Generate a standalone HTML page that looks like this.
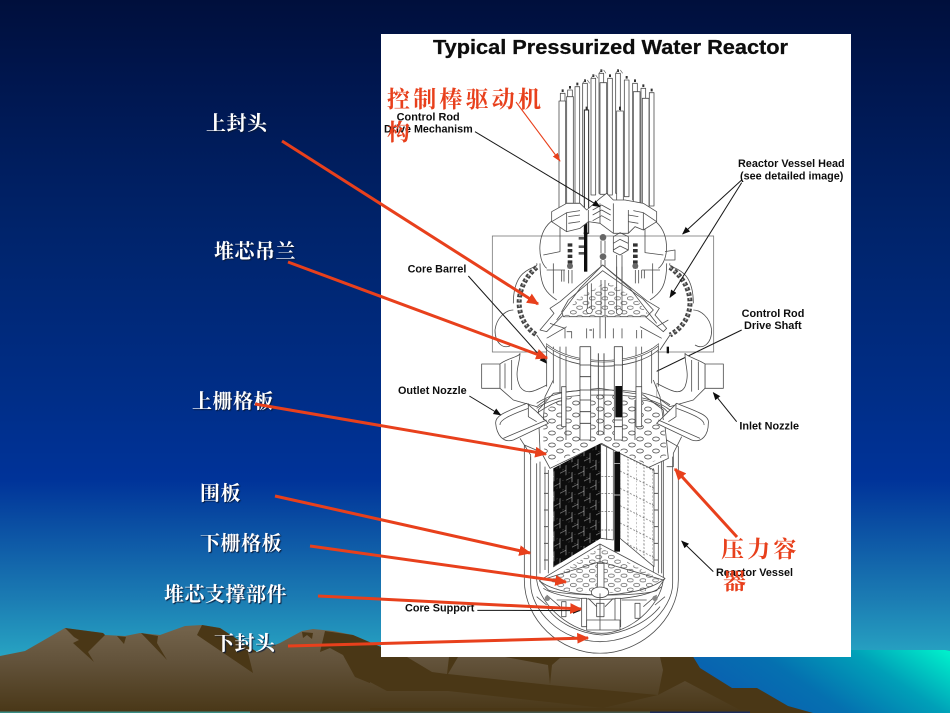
<!DOCTYPE html>
<html lang="zh">
<head>
<meta charset="utf-8">
<title>Typical Pressurized Water Reactor</title>
<style>
html,body{margin:0;padding:0;background:#001030}
#stage{position:relative;width:950px;height:713px;overflow:hidden}
svg{position:absolute;left:0;top:0}
.l{position:absolute;white-space:nowrap;color:#fff;font-family:"Liberation Serif","Noto Serif CJK SC",serif;font-weight:700;font-size:20px;line-height:22px;letter-spacing:.5px;text-shadow:1px 1px 1px #0a1a38}
.r{position:absolute;white-space:nowrap;color:#e8401c;font-family:"Liberation Serif","Noto Serif CJK SC",serif;font-weight:700;font-size:23px;line-height:24px;letter-spacing:3.2px}
.g{fill:none;stroke:#4c4c4c;stroke-width:2.4;stroke-linejoin:round}
.w{fill:#fff;stroke:#4c4c4c;stroke-width:2.4;stroke-linejoin:round}
.t{font-family:"Liberation Sans",sans-serif;font-weight:700;font-size:32px;fill:#111}
</style>
</head>
<body>
<div id="stage">
<svg width="950" height="713" viewBox="0 0 950 713" xmlns="http://www.w3.org/2000/svg">
<defs>
<filter id="soft" x="0" y="0" width="100%" height="100%"><feGaussianBlur stdDeviation=".35"/></filter>
<linearGradient id="sky" gradientUnits="userSpaceOnUse" x1="0" y1="0" x2="0" y2="713">
<stop offset="0" stop-color="#000f3c"/>
<stop offset=".11" stop-color="#00164e"/>
<stop offset=".33" stop-color="#00246c"/>
<stop offset=".56" stop-color="#002e88"/>
<stop offset=".673" stop-color="#003399"/>
<stop offset=".84" stop-color="#1b7cb3"/>
<stop offset=".92" stop-color="#27a3c2"/>
<stop offset="1" stop-color="#2bb0c4"/>
</linearGradient>
<linearGradient id="sea" gradientUnits="userSpaceOnUse" x1="760" y1="720" x2="860" y2="570">
<stop offset="0" stop-color="#0a60b0"/>
<stop offset=".3" stop-color="#0570b0"/>
<stop offset=".6" stop-color="#00a0b8"/>
<stop offset=".95" stop-color="#00ffcf"/>
</linearGradient>
<linearGradient id="mt" gradientUnits="userSpaceOnUse" x1="0" y1="630" x2="0" y2="711">
<stop offset="0" stop-color="#72624a"/>
<stop offset=".4" stop-color="#62523a"/>
<stop offset="1" stop-color="#4a3818"/>
</linearGradient>
<marker id="ra" viewBox="0 0 10 10" refX="9" refY="5" markerWidth="4" markerHeight="3.6" orient="auto" preserveAspectRatio="none" markerUnits="strokeWidth"><path d="M0 0L10 5L0 10z" fill="#e8401c"/></marker>
<marker id="rb" viewBox="0 0 10 10" refX="9" refY="5" markerWidth="8" markerHeight="8" orient="auto" markerUnits="strokeWidth"><path d="M0 1.5L10 5L0 8.5z" fill="#e8401c"/></marker>
<marker id="ka" viewBox="0 0 10 10" refX="9" refY="5" markerWidth="8" markerHeight="8" orient="auto" markerUnits="strokeWidth"><path d="M0 1L10 5L0 9z" fill="#111"/></marker>
<pattern id="holes" width="48" height="36" patternUnits="userSpaceOnUse">
<ellipse cx="12" cy="9" rx="10" ry="6" fill="#fff" stroke="#444" stroke-width="2.2"/>
<ellipse cx="36" cy="27" rx="10" ry="6" fill="#fff" stroke="#444" stroke-width="2.2"/>
</pattern>
<pattern id="holes2" width="38" height="28" patternUnits="userSpaceOnUse">
<ellipse cx="10" cy="7" rx="9" ry="5" fill="#fff" stroke="#444" stroke-width="2"/>
<ellipse cx="29" cy="21" rx="9" ry="5" fill="#fff" stroke="#444" stroke-width="2"/>
</pattern>
<pattern id="fuel" width="36" height="60" patternUnits="userSpaceOnUse" patternTransform="skewY(-27)">
<rect width="36" height="60" fill="#070707"/>
<path d="M0 15H18M18 45H36M18 0V30M0 30V60M36 30V60" stroke="#cfcfcf" stroke-width="1.6" fill="none"/>
<path d="M9 8v2M27 26v2M9 40v2M27 54v2" stroke="#999" stroke-width="2"/>
</pattern>
<pattern id="grid" width="48" height="52" patternUnits="userSpaceOnUse" patternTransform="skewY(27)">
<path d="M0 26H48M24 0V52M0 0V52" stroke="#555" stroke-width="2" stroke-dasharray="5 5" fill="none"/>
</pattern>
</defs>

<!-- background -->
<rect width="950" height="713" fill="url(#sky)"/>
<path d="M690 650H945L950 651V713H690z" fill="url(#sea)"/>

<!-- mountains, left -->
<path d="M0 656L25 651L65 628L103 633L105 635L125 636L140 633L160 635L185 626L202 625L220 628L257 652L280 643L302 631L313 629L333 631L353 635L381 647L381 713H0z" fill="url(#mt)"/>
<g fill="#4a3716">
<path d="M65 628L103 633L105 635L88 652L94 662L73 643L79 640L74 637z"/>
<path d="M117 636L126 637L124 644z"/>
<path d="M141 633L158 636L157 643L167 660z"/>
<path d="M202 625L220 628L257 652L248 653L253 673L197 635z"/>
<path d="M302 632L313 633L312 639L307 635L303 638z"/>
<path d="M325 631L353 635L381 647L400 690L387 690L355 677L343 655L330 648L320 652z"/>
</g>
<!-- mountains, middle and right under panel -->
<path d="M370 650H689L700 668L732 688L757 688L788 706L813 713H370z" fill="#4a3716"/>
<g fill="url(#mt)">
<path d="M407 657L449 657L447 674L432 672z"/>
<path d="M458 657L505 657L548 665L550 685L448 674z"/>
<path d="M552 665L560 658L660 657L663 670L658 695L550 685z"/>
<path d="M658 695L685 681L740 710L603 708z"/>
<path d="M370 682L387 691L448 691L603 708L370 708z"/>
</g>
<rect x="0" y="711.5" width="250" height="1.5" fill="#3a8c84"/>
<rect x="250" y="711.5" width="400" height="1.5" fill="#44564a"/>
<rect x="650" y="711.5" width="100" height="1.5" fill="#1c2c58"/>

<!-- diagram panel -->
<rect x="381" y="34" width="470" height="623" fill="#fff"/>
<g filter="url(#soft)">
<text x="433" y="54" font-family="Liberation Sans, sans-serif" font-weight="700" font-size="20" fill="#111" stroke="#111" stroke-width=".3" textLength="355" lengthAdjust="spacingAndGlyphs">Typical Pressurized Water Reactor</text>

<!-- upper part drawn in zoom coordinates -->
<g transform="translate(380 30) scale(.33333)">
<rect x="337" y="618" width="664" height="348" fill="none" stroke="#777" stroke-width="2.4"/>
<!-- dome -->
<path class="g" d="M520 570C470 600 470 690 500 715M820 570C870 600 870 690 835 715"/>
<path class="g" d="M490 675L540 665L540 545M850 675L795 668L795 545"/>
<path class="g" d="M480 700C480 770 500 790 530 810M860 700C860 770 840 790 810 810"/>
<path class="g" d="M520 700V790M818 700V790"/>
<path class="g" d="M500 720L555 720M840 720L785 720"/>
<path class="g" d="M855 690H885V660L855 665"/>
<!-- bead rings -->
<path d="M470 712C400 770 400 870 470 915" fill="none" stroke="#444" stroke-width="15" stroke-dasharray="10 6"/>
<path d="M470 712C400 770 400 870 470 915" fill="none" stroke="#aaa" stroke-width="4" stroke-dasharray="6 10"/>
<path d="M870 712C950 770 950 870 870 915" fill="none" stroke="#444" stroke-width="15" stroke-dasharray="10 6"/>
<path d="M870 712C950 770 950 870 870 915" fill="none" stroke="#aaa" stroke-width="4" stroke-dasharray="6 10"/>
<path class="g" d="M400 820C400 700 480 720 470 700M940 820C940 700 860 720 870 700"/>
<path class="g" d="M345 900C350 860 380 840 400 840M995 900C990 860 960 840 940 840"/>
<!-- rods back -->
<rect class="w" x="541" y="190" width="14" height="340"/>
<rect class="w" x="563" y="180" width="14" height="350"/>
<rect class="w" x="585" y="170" width="14" height="350"/>
<rect class="w" x="608" y="160" width="14" height="340"/>
<rect class="w" x="633" y="145" width="14" height="350"/>
<rect class="w" x="657" y="130" width="14" height="360"/>
<rect class="w" x="683" y="145" width="14" height="350"/>
<rect class="w" x="707" y="130" width="14" height="360"/>
<rect class="w" x="733" y="150" width="14" height="350"/>
<rect class="w" x="758" y="160" width="14" height="350"/>
<rect class="w" x="783" y="175" width="14" height="350"/>
<rect class="w" x="808" y="188" width="14" height="340"/>
<rect class="w" x="537" y="213" width="20" height="335"/>
<rect class="w" x="560" y="200" width="20" height="320"/>
<rect class="w" x="660" y="158" width="20" height="335"/>
<rect class="w" x="710" y="243" width="20" height="360"/>
<rect class="w" x="760" y="185" width="20" height="335"/>
<rect class="w" x="787" y="205" width="20" height="340"/>
<path d="M548 186v-8M570 176v-8M592 166v-8M615 156v-8M640 141v-8M664 126v-8M690 141v-8M714 126v-8M740 146v-8M765 156v-8M790 171v-8M815 184v-8M620 240v-10M720 240v-10" stroke="#333" stroke-width="6"/>
<path d="M615 150l-7 10M622 150l7 10M640 135l-7 10M647 135l7 10M664 120l-7 10M671 120l7 10M714 120l-7 10M721 120l7 10" stroke="#666" stroke-width="2"/>
<rect x="613" y="240" width="13" height="370" fill="#fff" stroke="#222" stroke-width="3"/>
<rect x="612" y="565" width="10" height="160" fill="#111"/>
<circle cx="617" cy="610" r="6" fill="#111"/>
<!-- CRDM structure -->
<path class="w" d="M515 545L560 520H600L620 540L660 505L680 490L700 510H735L790 520L830 545V575L790 600L765 590L745 610H700L660 580L625 575L600 595L560 605L515 575z"/>
<path class="g" d="M515 575L560 548L600 542M830 575L790 548L760 542M625 575L625 540M660 580V520M700 610V520M745 610V540M560 605V548M790 600V548"/>
<path class="g" d="M638 540L665 525L692 540M638 555L665 540L692 555M638 572L665 557L692 572M700 620L720 608L745 620M700 640L720 628L745 640M700 660L720 648L745 660M700 620V665L720 675L745 660V620"/>
<path class="g" d="M565 560L600 555M565 580L600 575M775 560L745 555M775 580L745 575"/>
<!-- lower nuts -->
<path d="M570 640V715M766 640V715" stroke="#333" stroke-width="14" stroke-dasharray="10 7"/>
<circle cx="570" cy="708" r="9" fill="#666"/>
<circle cx="766" cy="708" r="9" fill="#666"/>
<path d="M596 625H612M596 650H612M596 670H612" stroke="#555" stroke-width="8"/>
<circle cx="669" cy="622" r="10" fill="#666"/><circle cx="669" cy="680" r="10" fill="#666"/>
<path class="g" d="M663 632V670M675 632V670M663 690V800M675 690V800M710 675V840M726 675V840M566 720V760M576 720V760M766 720V760M776 720V760"/>
<path class="g" d="M545 720V755M552 720V755M785 720V745M793 720V745"/>
<!-- roof cap -->
<path class="w" d="M668 705L540 815L510 835L522 850L480 900L500 905L550 855H790L850 905L860 895L825 855L838 835L800 812z"/>
<path class="w" d="M668 722L565 810L545 845L550 860H800L820 840L790 808z"/>
<rect x="540" y="755" width="280" height="105" fill="url(#holes2)" style="clip-path:polygon(50% 0,82% 50%,96% 100%,4% 100%,18% 50%)"/>
<path class="g" d="M668 705L600 775L530 870M668 705L750 775L830 880"/>
<path class="g" d="M622 760V835M634 760V835M663 750V855M675 750V855M710 710V850M726 710V850"/>
<circle cx="628" cy="842" r="9" fill="#fff" stroke="#444" stroke-width="2"/>
<circle cx="718" cy="845" r="9" fill="#fff" stroke="#444" stroke-width="2"/>
<!-- barrel tops -->
<path class="g" d="M510 880L555 895V960M560 905L575 905V960M660 860V960M676 860V960M620 895V960M640 895V960M700 895V960M726 895V960M770 900V960M785 900V960M830 890L865 870M500 925L560 890M845 925L780 890"/>
<path d="M620 957H640M702 957H726" stroke="#111" stroke-width="4"/>
<path d="M628 900H636" stroke="#333" stroke-width="3"/>
<path class="g" d="M345 900C345 940 370 960 395 945M995 900C995 940 970 960 945 945M470 915L500 960M870 915L840 960"/>
<rect x="860" y="950" width="7" height="20" fill="#111"/>
<!-- text -->
<text class="t" x="50" y="271" textLength="189" lengthAdjust="spacingAndGlyphs">Control Rod</text>
<text class="t" x="12" y="308" textLength="266" lengthAdjust="spacingAndGlyphs">Drive Mechanism</text>
<text class="t" x="1074" y="411" textLength="320" lengthAdjust="spacingAndGlyphs">Reactor Vessel Head</text>
<text class="t" x="1080" y="448" textLength="310" lengthAdjust="spacingAndGlyphs">(see detailed image)</text>
<text class="t" x="83" y="728" textLength="176" lengthAdjust="spacingAndGlyphs">Core Barrel</text>
<text class="t" x="1085" y="861" textLength="188" lengthAdjust="spacingAndGlyphs">Control Rod</text>
<text class="t" x="1092" y="897" textLength="173" lengthAdjust="spacingAndGlyphs">Drive Shaft</text>
<!-- black arrows -->
<g fill="none" stroke="#151515" stroke-width="3">
<path d="M285 305L660 530" marker-end="url(#ka)"/>
<path d="M1085 450L908 612" marker-end="url(#ka)"/>
<path d="M1085 458L870 802" marker-end="url(#ka)"/>
<path d="M265 738L500 1000" marker-end="url(#ka)"/>
<path d="M1085 900L735 1070" marker-end="url(#ka)"/>
</g>
</g>

<!-- lower part in zoom coordinates -->
<g transform="translate(380 340) scale(.33333)">
<!-- vessel -->
<path class="w" d="M433 315V720C433 840 540 940 660 940C780 940 895 840 895 720V320L860 300V330L480 335z"/>
<path class="g" d="M452 350V730C452 810 540 905 660 905C780 905 878 810 878 730V350"/>
<path class="g" d="M470 370V720C480 800 580 880 665 880C750 880 840 800 850 720V360"/>
<path class="g" d="M480 365V700M495 380V690M505 390V700M820 385V700M835 375V700M845 365V700"/>
<path d="M492 400H505M492 460H505M492 510H505M492 560H505M492 610H505M492 660H505M822 400H835M822 460H835M822 510H835M822 560H835M822 610H835M822 660H835" stroke="#555" stroke-width="3"/>
<!-- nozzles outer -->
<path class="w" d="M305 72H360V145H305z"/>
<path class="w" d="M360 72C380 55 420 50 420 40C420 70 400 100 420 140C440 170 470 150 510 130V170L470 200L400 180L360 145z"/>
<path class="w" d="M1030 72H975V145H1030z"/>
<path class="w" d="M975 72C960 60 920 50 915 40C915 80 930 100 915 140C900 170 870 150 830 130V170L870 200L940 180L975 145z"/>
<path class="g" d="M375 70V145M395 60V150M955 65V150M935 60V155"/>
<!-- central barrel -->
<rect x="500" y="-5" width="330" height="340" fill="#fff"/>
<path class="g" d="M500 10V140M520 20V130M540 20V165M558 20V160M600 20V300M632 20V300M655 40V280M672 40V280M703 20V300M727 20V300M768 20V165M785 20V165M815 25V130M835 10V140"/>
<path d="M500 15C580 80 760 80 835 15" fill="none" stroke="#444" stroke-width="7"/>
<path d="M500 15C580 80 760 80 835 15" fill="none" stroke="#fff" stroke-width="3"/>
<path class="g" d="M500 30C580 95 760 95 835 30"/>
<path d="M605 30H630M605 75H632M605 105H632M605 145H632M706 30H728M706 75H728" stroke="#222" stroke-width="3"/>
<!-- upper grid plate -->
<path class="w" d="M475 210L520 160L660 145L790 165L850 210L865 355L800 385L665 310L510 385L480 330z"/>
<path d="M490 220L540 175L660 160L785 175L850 225L860 345L800 375L665 300L510 375L490 320z" fill="url(#holes)"/>
<path class="g" d="M470 190C530 150 600 150 665 150C730 150 810 150 870 195M470 205C530 165 600 165 665 165C730 165 810 165 870 210M470 220C530 180 550 180 560 180M780 180C810 180 850 195 870 225"/>
<path class="w" d="M545 140H558V260H545zM768 140H785V260H768z"/>
<path class="w" d="M600 20H632V300H600z"/>
<path class="w" d="M703 20H727V300H703z"/>
<path class="g" d="M655 40V285M672 40V285M558 180V300M765 180V300"/>
<path d="M600 75H632M600 110H632M600 150H632M600 180H632M600 215H632M600 250H632M703 75H727M703 240H727M703 260H727" stroke="#333" stroke-width="2.4"/>
<rect x="706" y="138" width="20" height="94" fill="#0a0a0a"/>
<!-- outlet/inlet pipes -->
<path class="w" d="M347 250C345 225 380 215 440 190L470 215L505 250L400 300C370 310 350 285 347 250z"/>
<path class="g" d="M360 255C358 240 390 225 445 205M370 295L500 240M445 190V230L470 245"/>
<path class="w" d="M985 250C990 225 950 215 890 190L865 215L830 250L935 300C965 310 985 285 985 250z"/>
<path class="g" d="M972 255C975 240 945 225 890 205M960 295L835 240M888 190V230L865 245"/>
<path class="g" d="M520 120L495 170L490 240M820 120L840 170L850 240"/>
<path class="g" d="M420 295L452 345V360M905 290L880 340V380H860"/>
<!-- core -->
<path d="M520 385L662 310V595L520 682z" fill="url(#fuel)"/>
<path class="w" d="M720 340L822 390V680L720 595z"/>
<path d="M720 340L822 390V680L720 595z" fill="url(#grid)"/>
<path class="w" d="M662 312L700 330V600L662 595z"/>
<path class="g" d="M680 320V600"/>
<path d="M664 410H698M664 460H698M664 515H698M664 570H698" stroke="#555" stroke-width="2" stroke-dasharray="6 4"/>
<rect x="703" y="335" width="17" height="300" fill="#101010"/>
<path d="M703 370H720M703 465H720" stroke="#fff" stroke-width="2"/>
<!-- lower plate -->
<path class="w" d="M478 722L660 612L855 715L830 752C780 770 560 770 505 750z"/>
<path d="M510 720L660 622L840 718L810 750C760 762 570 762 530 745z" fill="url(#holes2)"/>
<path class="g" d="M660 612V740M478 722C550 780 780 780 855 715M500 715L660 665L850 720M490 745C560 790 780 790 845 740"/>
<path class="w" d="M652 670H672V745H652z"/>
<ellipse cx="660" cy="757" rx="26" ry="16" class="w"/>
<!-- core support -->
<path class="g" d="M500 765L540 800M830 765L790 800M530 780H600M725 780H800M470 770L500 795M855 770L825 795"/>
<path class="w" d="M545 785H558V830H545zM765 790H780V835H765z"/>
<path class="w" d="M605 775H620V860H605zM705 775H722V860H705z"/>
<path class="w" d="M620 840L720 840V870H620z"/>
<path class="g" d="M650 790H672V830H650zM660 760V870M625 775L650 800M700 775L675 800"/>
<circle cx="502" cy="775" r="8" fill="#888"/>
<circle cx="825" cy="775" r="8" fill="#888"/>
<path class="g" d="M500 800C530 850 600 880 665 885C730 880 800 850 840 800"/>
<!-- text -->
<text class="t" x="54" y="162" textLength="206" lengthAdjust="spacingAndGlyphs">Outlet Nozzle</text>
<text class="t" x="1078" y="269" textLength="179" lengthAdjust="spacingAndGlyphs">Inlet Nozzle</text>
<text class="t" x="1008" y="708" textLength="231" lengthAdjust="spacingAndGlyphs">Reactor Vessel</text>
<text class="t" x="75" y="815" textLength="208" lengthAdjust="spacingAndGlyphs">Core Support</text>
<!-- black arrows -->
<g fill="none" stroke="#151515" stroke-width="3">
<path d="M268 168L362 225" marker-end="url(#ka)"/>
<path d="M1070 245L1000 158" marker-end="url(#ka)"/>
<path d="M1000 695L905 603" marker-end="url(#ka)"/>
<path d="M292 811L600 812" marker-end="url(#ka)"/>
</g>
</g>
</g>
</svg>

<div class="l" style="left:206px;top:113px">上封头</div>
<div class="l" style="left:214px;top:241px">堆芯吊兰</div>
<div class="l" style="left:192px;top:391px">上栅格板</div>
<div class="l" style="left:200px;top:483px">围板</div>
<div class="l" style="left:200px;top:533px">下栅格板</div>
<div class="l" style="left:164px;top:584px">堆芯支撑部件</div>
<div class="l" style="left:214px;top:633px">下封头</div>
<div class="r" style="left:387px;top:88px">控制棒驱动机</div>
<div class="r" style="left:387px;top:121px">构</div>
<div class="r" style="left:721px;top:538px">压力容</div>
<div class="r" style="left:723px;top:570px">器</div>

<!-- Red arrows on top of labels -->
<svg width="950" height="713" viewBox="0 0 950 713" xmlns="http://www.w3.org/2000/svg">
<g fill="none" stroke="#e8401c" stroke-width="3">
<path d="M282 141L538 304" marker-end="url(#ra)"/>
<path d="M288 262L547 358" marker-end="url(#ra)"/>
<path d="M255 404L546 454" marker-end="url(#ra)"/>
<path d="M275 496L530 553" marker-end="url(#ra)"/>
<path d="M310 546L566 582" marker-end="url(#ra)"/>
<path d="M318 596L581 609" marker-end="url(#ra)"/>
<path d="M288 646L588 638" marker-end="url(#ra)"/>
<path d="M737 537L675 469" marker-end="url(#ra)"/>
<path d="M516 102L560 161" stroke-width="1.1" marker-end="url(#rb)"/>
</g>
</svg>
</div>
</body>
</html>
